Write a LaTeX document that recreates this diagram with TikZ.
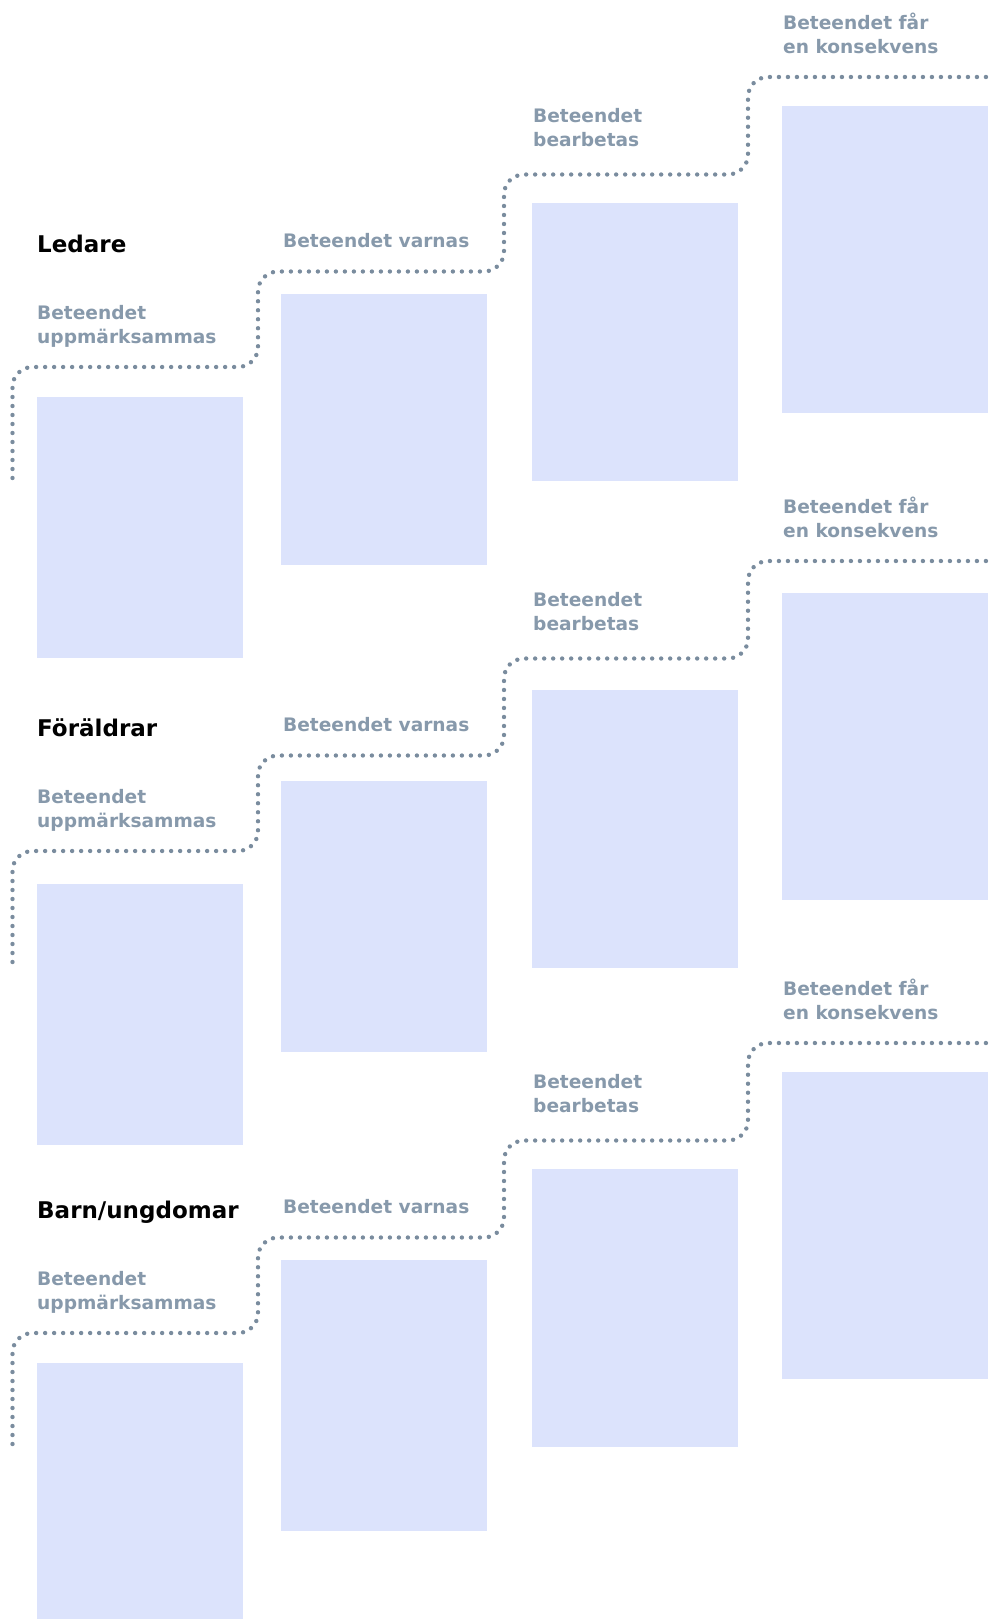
\documentclass[tikz,border=0pt]{standalone}
\usepackage{fontspec}
\setmainfont{DejaVu Sans}
\usepackage{tikz}

\definecolor{boxblue}{RGB}{220,227,252}
\definecolor{steptext}{RGB}{135,153,171}
\definecolor{stepdots}{RGB}{122,140,158}

\tikzset{
  stagebox/.style={fill=boxblue, anchor=north west, inner sep=0pt,
    minimum width=206pt, minimum height=#1},
  steplabel/.style={anchor=base west, inner sep=0pt, align=left,
    text=steptext, font=\fontsize{18.6}{23.5}\selectfont\bfseries},
  grouptitle/.style={anchor=base west, inner sep=0pt,
    font=\fontsize{23}{28}\selectfont\bfseries},
  stairline/.style={stepdots, line width=4.4pt, line cap=round,
    dash pattern=on 0pt off 9pt, rounded corners=20pt}
}

\begin{document}
\begin{tikzpicture}[x=1pt, y=-1pt]
    \useasboundingbox (0,0) rectangle (991,1619);

    \foreach \off/\boxoff/\group/\id in {0/0/Ledare/a, 484/487/Föräldrar/b, 966/966/{Barn/ungdomar}/c} {
      \begin{scope}[yshift=-\off pt]
        % Group title
        \node[grouptitle] (\id title) at (37,252) {\group};

        % Step labels (anchored on their last line)
        \node[steplabel] (\id lab1) at (37,343) {Beteendet\\uppmärksammas};
        \node[steplabel] (\id lab2) at (283,247) {Beteendet varnas};
        \node[steplabel] (\id lab3) at (533,146) {Beteendet\\bearbetas};
        \node[steplabel] (\id lab4) at (783,53) {Beteendet får\\en konsekvens};

        % Dotted staircase
        \draw[stairline] (12.5,478) -- (12.5,367) -- (258,367) -- (258,271.5)
          -- (504,271.5) -- (504,174.5) -- (748,174.5) -- (748,77) -- (1010,77);
      \end{scope}

      % Boxes under each step
      \begin{scope}[yshift=-\boxoff pt]
        \node[stagebox=261pt] (\id box1) at (37,397) {};
        \node[stagebox=271pt] (\id box2) at (281,294) {};
        \node[stagebox=278pt] (\id box3) at (532,203) {};
        \node[stagebox=307pt] (\id box4) at (782,106) {};
      \end{scope}
    }
\end{tikzpicture}
\end{document}
